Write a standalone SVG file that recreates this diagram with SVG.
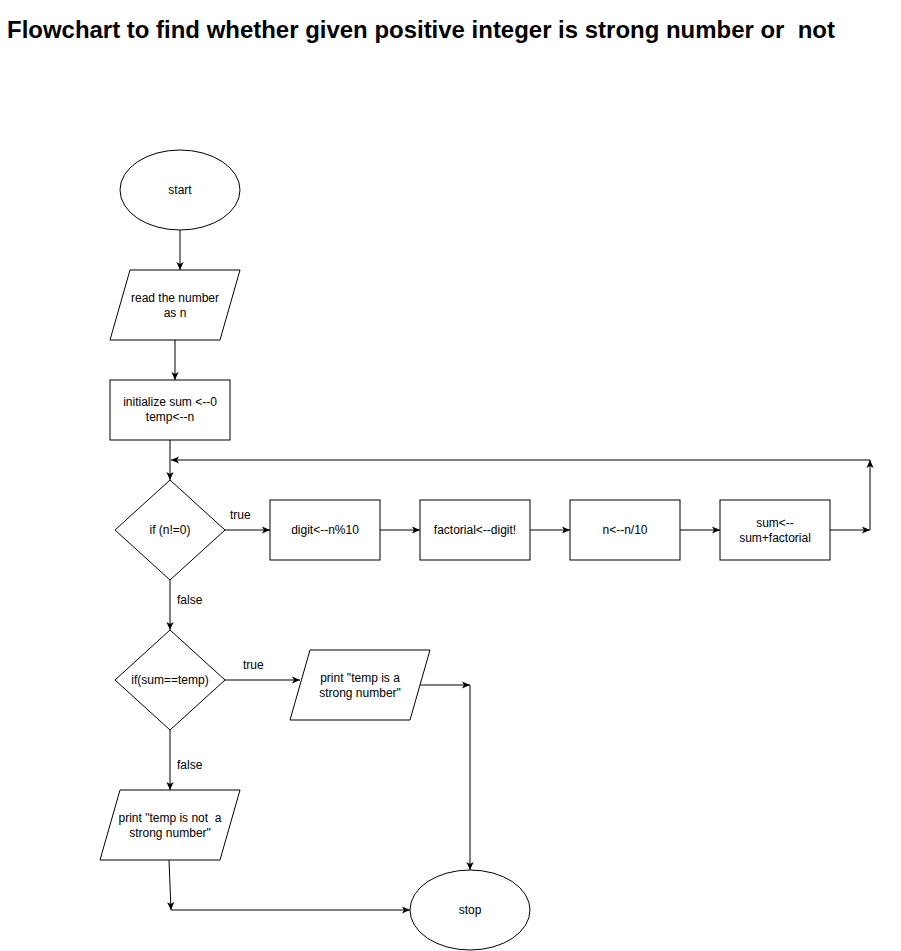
<svg xmlns="http://www.w3.org/2000/svg" width="901" height="951" viewBox="0 0 901 951">
<style>
.shape{fill:#fff;stroke:#000;stroke-width:1}
.t{font-family:"Liberation Sans",Arial,sans-serif;font-size:12px;fill:#000;text-anchor:middle}
.lbl{font-family:"Liberation Sans",Arial,sans-serif;font-size:12px;fill:#000;text-anchor:start}
.title{font-family:"Liberation Sans",Arial,sans-serif;font-size:24px;font-weight:bold;fill:#000;white-space:pre}
.e{fill:none;stroke:#000;stroke-width:1}
</style>
<defs>
<marker id="arr" viewBox="0 0 10 10" refX="10" refY="5" markerWidth="8" markerHeight="8" markerUnits="userSpaceOnUse" orient="auto">
<path d="M0,0.5 L10,5 L0,9.5 L2.5,5 z" fill="#000"/>
</marker>
</defs>
<rect width="901" height="951" fill="#fff"/>
<text class="title" x="7" y="38" textLength="828" lengthAdjust="spacingAndGlyphs" xml:space="preserve">Flowchart to find whether given positive integer is strong number or  not</text>

<g id="connectors">
<path class="e" d="M180,230 L180,270" marker-end="url(#arr)"/>
<path class="e" d="M175,340 L175,380" marker-end="url(#arr)"/>
<path class="e" d="M170,440 L170,480" marker-end="url(#arr)"/>
<path class="e" d="M870,460 L171,460" marker-end="url(#arr)"/>
<path class="e" d="M225,530 L270,530" marker-end="url(#arr)"/>
<path class="e" d="M380,530 L420,530" marker-end="url(#arr)"/>
<path class="e" d="M530,530 L570,530" marker-end="url(#arr)"/>
<path class="e" d="M680,530 L720,530" marker-end="url(#arr)"/>
<path class="e" d="M830,530 L870,530" marker-end="url(#arr)"/>
<path class="e" d="M870,530 L870,460" marker-end="url(#arr)"/>
<path class="e" d="M170,580 L170,630" marker-end="url(#arr)"/>
<path class="e" d="M225,680 L300,680" marker-end="url(#arr)"/>
<path class="e" d="M420,685 L470,685" marker-end="url(#arr)"/>
<path class="e" d="M470,685 L470,870" marker-end="url(#arr)"/>
<path class="e" d="M170,730 L170,790" marker-end="url(#arr)"/>
<path class="e" d="M169,860 L171,910" marker-end="url(#arr)"/>
<path class="e" d="M171,910 L410,910" marker-end="url(#arr)"/>
<text class="lbl" x="230" y="519">true</text>
<text class="lbl" x="177" y="604">false</text>
<text class="lbl" x="243" y="669">true</text>
<text class="lbl" x="177" y="769">false</text>
</g>

<g id="start">
<ellipse class="shape" cx="180" cy="190" rx="60" ry="40"/>
<text class="t" x="180" y="194">start</text>
</g>
<g id="read">
<path class="shape" d="M130,270 L240,270 L220,340 L110,340 Z"/>
<text class="t" x="175" y="302">read the number</text>
<text class="t" x="175" y="317">as n</text>
</g>
<g id="init">
<rect class="shape" x="110" y="380" width="120" height="60"/>
<text class="t" x="170" y="406">initialize sum &lt;--0</text>
<text class="t" x="170" y="421">temp&lt;--n</text>
</g>
<g id="cond1">
<path class="shape" d="M170,480 L225,530 L170,580 L115,530 Z"/>
<text class="t" x="170" y="534">if (n!=0)</text>
</g>
<g id="digit">
<rect class="shape" x="270" y="500" width="110" height="60"/>
<text class="t" x="325" y="534">digit&lt;--n%10</text>
</g>
<g id="factorial">
<rect class="shape" x="420" y="500" width="110" height="60"/>
<text class="t" x="475" y="534">factorial&lt;--digit!</text>
</g>
<g id="ndiv">
<rect class="shape" x="570" y="500" width="110" height="60"/>
<text class="t" x="625" y="534">n&lt;--n/10</text>
</g>
<g id="sum">
<rect class="shape" x="720" y="500" width="110" height="60"/>
<text class="t" x="775" y="527">sum&lt;--</text>
<text class="t" x="775" y="542">sum+factorial</text>
</g>
<g id="cond2">
<path class="shape" d="M170,630 L225,680 L170,730 L115,680 Z"/>
<text class="t" x="170" y="684">if(sum==temp)</text>
</g>
<g id="printyes">
<path class="shape" d="M310,650 L430,650 L410,720 L290,720 Z"/>
<text class="t" x="360" y="682">print "temp is a</text>
<text class="t" x="360" y="697">strong number"</text>
</g>
<g id="printno">
<path class="shape" d="M120,790 L240,790 L220,860 L100,860 Z"/>
<text class="t" x="170" y="822" xml:space="preserve">print "temp is not  a</text>
<text class="t" x="170" y="837">strong number"</text>
</g>
<g id="stop">
<ellipse class="shape" cx="470" cy="910" rx="60" ry="40"/>
<text class="t" x="470" y="914">stop</text>
</g>
</svg>
